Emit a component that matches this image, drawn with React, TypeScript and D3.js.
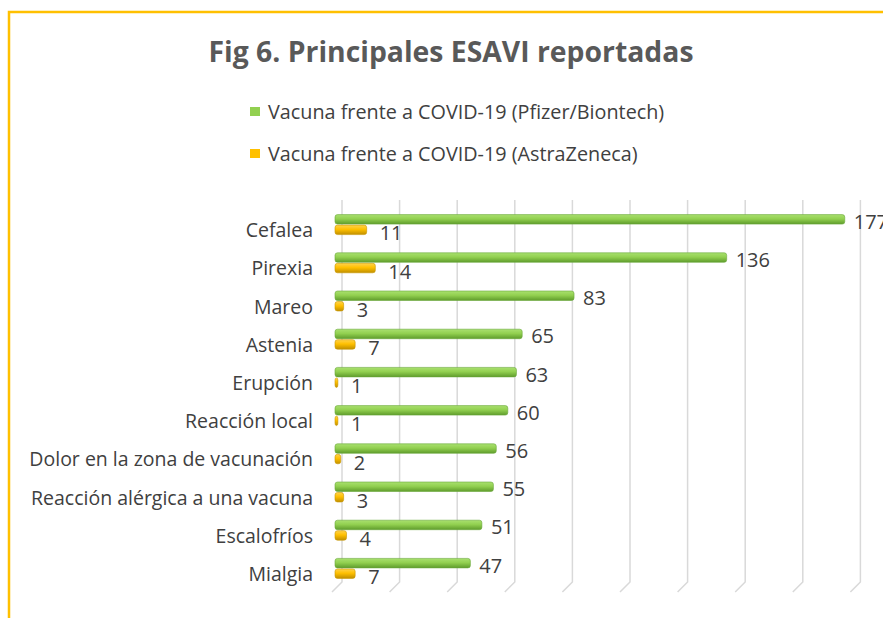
import React from "react";
import * as d3 from "d3";

const categories = [
  "Cefalea",
  "Pirexia",
  "Mareo",
  "Astenia",
  "Erupción",
  "Reacción local",
  "Dolor en la zona de vacunación",
  "Reacción alérgica a una vacuna",
  "Escalofríos",
  "Mialgia",
];
const pfizer = [177, 136, 83, 65, 63, 60, 56, 55, 51, 47];
const astra = [11, 14, 3, 7, 1, 1, 2, 3, 4, 7];
const seriesNames = [
  "Vacuna frente a COVID-19 (Pfizer/Biontech)",
  "Vacuna frente a COVID-19 (AstraZeneca)",
];
const xTicks = [0, 20, 40, 60, 80, 100, 120, 140, 160, 180];

const W = 883;
const H = 618;
const FONT = "'Open Sans', 'DejaVu Sans', sans-serif";
const TXT = "#404040";

export default function App() {
  const x = d3.scaleLinear().domain([0, 180]).range([335, 853.4]);
  const y = d3
    .scaleBand<string>()
    .domain(categories)
    .range([205.5, 587.5])
    .paddingInner(0);
  const barH = 9.5;
  const depthX = 7;
  const gridTop = 200;
  const gridBottom = 582;
  const floorDrop = 10;

  return (
    <svg
      width={W}
      height={H}
      style={{ position: "absolute", left: 0, top: 0, background: "#fff" }}
    >
      <defs>
        <linearGradient id="gGreen" x1="0" y1="0" x2="0" y2="1">
          <stop offset="0" stopColor="#a9e06f" />
          <stop offset="0.45" stopColor="#92d050" />
          <stop offset="1" stopColor="#5f9c2c" />
        </linearGradient>
        <linearGradient id="gOrange" x1="0" y1="0" x2="0" y2="1">
          <stop offset="0" stopColor="#ffd24d" />
          <stop offset="0.45" stopColor="#ffc000" />
          <stop offset="1" stopColor="#c08f00" />
        </linearGradient>
      </defs>
      <rect x={9} y={12} width={W + 20} height={H + 20} fill="none" stroke="#FFC000" strokeWidth={2.5} />

      <text
        x={451}
        y={62}
        textAnchor="middle"
        fontFamily={FONT}
        fontWeight="bold"
        fontSize={28}
        fill="#595959"
        textLength={485}
        lengthAdjust="spacingAndGlyphs"
      >
        Fig 6. Principales ESAVI reportadas
      </text>

      {seriesNames.map((s, i) => (
        <g key={s} transform={`translate(250, ${107 + i * 42})`}>
          <rect width={10} height={9} fill={i === 0 ? "#92D050" : "#FFC000"} />
          <text x={18} y={4.5} dominantBaseline="central" fontFamily={FONT} fontSize={19.8} fill={TXT}>
            {s}
          </text>
        </g>
      ))}

      {xTicks.map((t) => (
        <path
          key={t}
          d={`M${x(t) + depthX},${gridTop} L${x(t) + depthX},${gridBottom} L${x(t) - 3},${gridBottom + floorDrop}`}
          fill="none"
          stroke="#d9d9d9"
          strokeWidth={1.5}
        />
      ))}

      {categories.map((c, i) => {
        const c0 = (y(c) as number) + y.bandwidth() / 2;
        const gy = c0 - barH - 0.5;
        const oy = c0 + 0.5;
        return (
          <g key={c}>
            <text
              x={313}
              y={c0 + 5}
              textAnchor="end"
              dominantBaseline="central"
              fontFamily={FONT}
              fontSize={19.5}
              fill={TXT}
            >
              {c}
            </text>
            <rect
              x={x(0)}
              y={gy}
              width={x(pfizer[i]) - x(0)}
              height={barH}
              rx={2.5}
              fill="url(#gGreen)"
              stroke="#6aa83a"
              strokeWidth={0.6}
            />
            <rect
              x={x(0)}
              y={oy}
              width={x(astra[i]) - x(0)}
              height={barH}
              rx={2.5}
              fill="url(#gOrange)"
              stroke="#c99700"
              strokeWidth={0.6}
            />
            <text
              x={x(pfizer[i]) + 9}
              y={gy + barH / 2 + 2}
              dominantBaseline="central"
              fontFamily={FONT}
              fontSize={20}
              fill={TXT}
            >
              {pfizer[i]}
            </text>
            <text
              x={x(astra[i]) + 13}
              y={oy + barH / 2 + 3}
              dominantBaseline="central"
              fontFamily={FONT}
              fontSize={20}
              fill={TXT}
            >
              {astra[i]}
            </text>
          </g>
        );
      })}
    </svg>
  );
}
